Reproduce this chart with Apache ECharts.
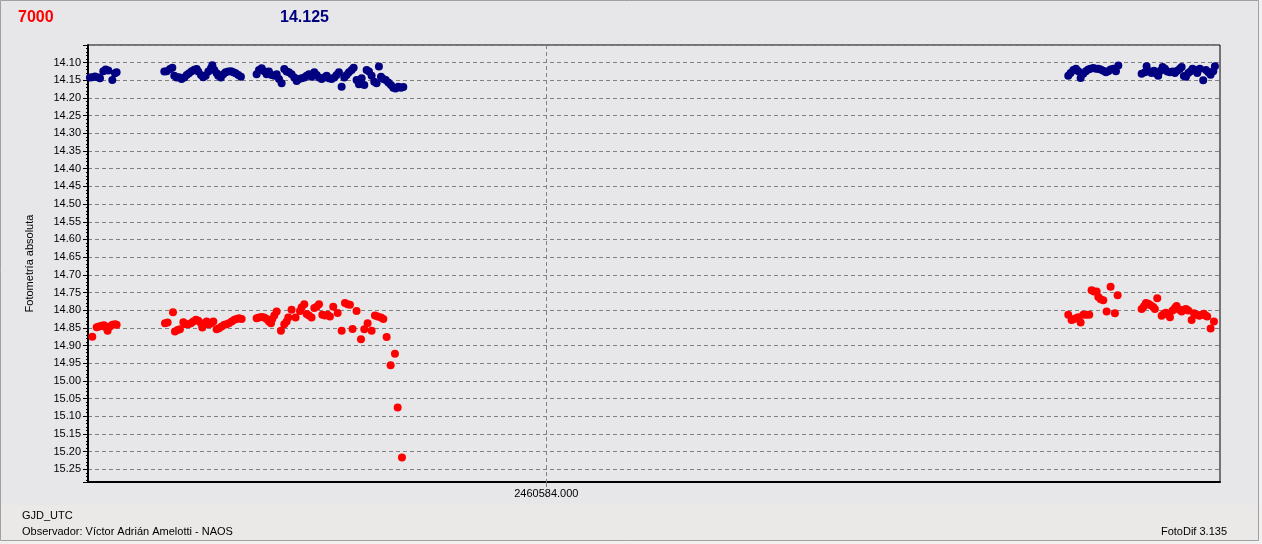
<!DOCTYPE html>
<html>
<head>
<meta charset="utf-8">
<style>
html,body{margin:0;padding:0;background:#f0f0f0;}
#chart{width:1262px;height:544px;}
</style>
<script src="https://cdn.jsdelivr.net/npm/echarts@6/dist/echarts.min.js"></script>
</head>
<body>
<div id="chart"></div>
<script>
// Julian date base; times below are JD - JD0
var JD0 = 2460583;
var xLabelValues = [2460584];
var yTickStep = 0.05;

// Comparison star (blue), night 1 and night 2
var compT1 = [0.5324,0.5348,0.5375,0.5403,0.5427,0.5461,0.5485,0.5512,0.5553,0.5580,0.5597,
  0.6086,0.6110,0.6144,0.6168,0.6188,0.6212,0.6236,0.6263,0.6291,0.6315,0.6339,0.6366,0.6393,0.6417,0.6434,0.6462,0.6485,0.6509,0.6537,0.6564,0.6578,0.6598,0.6622,0.6639,0.6666,0.6690,0.6714,0.6742,0.6769,0.6793,0.6817,0.6844,0.6871,
  0.7032,0.7056,0.7083,0.7110,0.7134,0.7158,0.7185,0.7213,0.7237,0.7261,
  0.7288,0.7315,0.7339,0.7363,0.7390,0.7418,0.7442,0.7466,0.7493,0.7520,
  0.7544,0.7568,0.7595,0.7623,0.7647,0.7671,0.7698,0.7725,0.7749,0.7773,
  0.7800,0.7828,0.7851,0.7875,0.7903,0.7930,0.7954,0.7978,0.8005,0.8026,
  0.8056,0.8080,0.8108,0.8135,0.8159,0.8183,0.8210,0.8237,0.8261,0.8285,
  0.8306,0.8330,0.8354,0.8381,0.8408,0.8432,0.8456,0.8483,0.8511,0.8535];
var compMag1 = [14.142,14.141,14.139,14.141,14.144,14.124,14.119,14.122,14.149,14.130,14.127,
  14.125,14.124,14.118,14.114,14.137,14.142,14.141,14.146,14.142,14.135,14.130,14.124,14.120,14.118,14.125,14.135,14.141,14.137,14.125,14.116,14.107,14.121,14.130,14.137,14.142,14.133,14.127,14.125,14.124,14.127,14.130,14.135,14.140,
  14.133,14.121,14.116,14.124,14.133,14.125,14.135,14.137,14.133,14.146,
  14.158,14.118,14.125,14.127,14.133,14.142,14.152,14.146,14.144,14.142,
  14.137,14.133,14.140,14.127,14.135,14.142,14.146,14.142,14.137,14.144,
  14.146,14.142,14.135,14.127,14.168,14.142,14.135,14.127,14.121,14.114,
  14.149,14.161,14.144,14.163,14.121,14.125,14.137,14.154,14.158,14.111,
  14.140,14.146,14.149,14.156,14.163,14.171,14.173,14.168,14.171,14.169];
var compT2 = [1.5348,1.5372,1.5400,1.5427,1.5451,1.5475,1.5502,1.5529,1.5553,1.5577,1.5604,1.5632,1.5656,1.5680,1.5707,1.5734,1.5758,1.5782,1.5809,1.5837,1.5861,
  1.6100,1.6134,1.6151,1.6178,1.6202,1.6226,1.6253,1.6270,1.6294,1.6315,1.6339,1.6363,1.6390,1.6417,1.6441,1.6465,1.6492,1.6510,1.6533,1.6554,1.6578,1.6602,1.6622,1.6646,1.6670,1.6697,1.6731,1.6759,1.6783,1.6807,1.6834,1.6851];
var compMag2 = [14.137,14.129,14.121,14.117,14.124,14.143,14.131,14.124,14.119,14.117,14.115,14.117,14.117,14.119,14.123,14.127,14.124,14.119,14.117,14.124,14.108,
  14.131,14.127,14.110,14.125,14.129,14.123,14.131,14.137,14.123,14.112,14.117,14.125,14.127,14.125,14.129,14.123,14.117,14.112,14.138,14.140,14.129,14.124,14.117,14.121,14.129,14.117,14.150,14.121,14.127,14.134,14.124,14.110];

// Target (red), night 1 and night 2
var targT1 = [0.5348,0.5393,0.5416,0.5444,0.5468,0.5485,0.5505,0.5529,0.5553,0.5580,0.5597,
  0.6093,0.6120,0.6175,0.6195,0.6222,0.6246,0.6281,0.6304,0.6332,0.6359,0.6383,0.6410,0.6434,0.6462,0.6475,0.6496,0.6520,0.6544,0.6564,0.6588,0.6622,0.6646,0.6673,0.6701,0.6725,0.6748,0.6776,0.6803,0.6827,0.6851,0.6878,
  0.7032,0.7056,0.7083,0.7110,0.7134,0.7158,0.7179,0.7192,0.7213,0.7237,
  0.7281,0.7315,0.7339,0.7356,0.7390,0.7431,0.7476,0.7493,0.7520,0.7544,
  0.7568,0.7595,0.7623,0.7647,0.7671,0.7705,0.7732,0.7759,0.7783,0.7817,
  0.7862,0.7903,0.7937,0.7964,0.7988,0.8015,0.8056,0.8101,0.8135,0.8169,
  0.8210,0.8244,0.8272,0.8306,0.8330,0.8364,0.8405,0.8449,0.8477,0.8521];
var targMag1 = [14.875,14.848,14.846,14.844,14.843,14.848,14.858,14.846,14.841,14.840,14.841,
  14.837,14.835,14.806,14.860,14.856,14.854,14.834,14.840,14.840,14.837,14.832,14.827,14.830,14.837,14.849,14.841,14.832,14.840,14.837,14.832,14.854,14.851,14.846,14.841,14.840,14.837,14.832,14.827,14.825,14.823,14.825,
  14.823,14.821,14.819,14.821,14.825,14.832,14.837,14.825,14.815,14.804,
  14.858,14.840,14.832,14.821,14.799,14.821,14.802,14.792,14.783,14.811,
  14.815,14.821,14.794,14.790,14.783,14.813,14.815,14.813,14.818,14.790,
  14.808,14.858,14.780,14.783,14.785,14.853,14.802,14.882,14.854,14.837,
  14.858,14.815,14.818,14.821,14.825,14.876,14.956,14.923,15.075,15.217];
var targT2 = [1.5348,1.5382,1.5400,1.5427,1.5451,1.5475,1.5502,1.5536,1.5563,1.5587,1.5611,1.5639,1.5656,1.5680,1.5707,1.5741,1.5782,1.5826,1.5854,
  1.6100,1.6124,1.6144,1.6168,1.6192,1.6219,1.6236,1.6260,1.6305,1.6328,1.6349,1.6373,1.6390,1.6417,1.6441,1.6458,1.6486,1.6510,1.6533,1.6554,1.6578,1.6612,1.6636,1.6663,1.6691,1.6714,1.6738,1.6759,1.6772,1.6807,1.6841];
var targMag2 = [14.813,14.828,14.826,14.823,14.820,14.835,14.813,14.813,14.813,14.744,14.747,14.747,14.763,14.769,14.772,14.804,14.734,14.809,14.758,
  14.797,14.789,14.780,14.782,14.786,14.791,14.797,14.766,14.816,14.810,14.807,14.813,14.820,14.801,14.794,14.788,14.799,14.804,14.799,14.797,14.801,14.828,14.809,14.813,14.816,14.813,14.810,14.816,14.818,14.852,14.832];

var xMin = JD0 + 0.5304, xMax = JD0 + 1.6903;
var yMin = 14.05, yMax = 15.286;

function zip(ts, ms) {
  var out = [];
  for (var i = 0; i < Math.min(ts.length, ms.length); i++) out.push([JD0 + ts[i], ms[i]]);
  return out;
}
var compData = zip(compT1, compMag1).concat(zip(compT2, compMag2));
var targData = zip(targT1, targMag1).concat(zip(targT2, targMag2));

var FONT = '"Liberation Sans", Arial, sans-serif';
var chart = echarts.init(document.getElementById('chart'), null, {renderer: 'canvas'});
chart.setOption({
  animation: false,
  backgroundColor: '#f0f0f0',
  graphic: [
    {type: 'rect', z: -100, silent: true, shape: {x: 0.5, y: 0.5, width: 1258, height: 540},
      style: {fill: '#e7e7ea', stroke: '#a0a0a0', lineWidth: 1}},
    {type: 'rect', z: -99, silent: true, shape: {x: 1, y: 505, width: 1257, height: 35},
      style: {fill: '#eae9e7'}},
    {type: 'text', silent: true, style: {text: '7000', x: 18, y: 18, fill: '#ff0000', font: 'bold 16px ' + FONT, textVerticalAlign: 'middle', verticalAlign: 'middle'}},
    {type: 'text', silent: true, style: {text: '14.125', x: 280, y: 18, fill: '#000080', font: 'bold 16px ' + FONT, textVerticalAlign: 'middle', verticalAlign: 'middle'}},
    {type: 'text', silent: true, style: {text: 'GJD_UTC', x: 22, y: 516, fill: '#000', font: '11px ' + FONT, textVerticalAlign: 'middle', verticalAlign: 'middle'}},
    {type: 'text', silent: true, style: {text: 'Observador: Víctor Adrián Amelotti - NAOS', x: 22, y: 532, fill: '#000', font: '11px ' + FONT, textVerticalAlign: 'middle', verticalAlign: 'middle'}},
    {type: 'text', silent: true, style: {text: 'FotoDif 3.135', x: 1227, y: 532, fill: '#000', font: '11px ' + FONT, textAlign: 'right', align: 'right', textVerticalAlign: 'middle', verticalAlign: 'middle'}}
  ],
  grid: {
    left: 88, right: 42, top: 45, bottom: 62,
    show: true, borderColor: '#000', borderWidth: 1, backgroundColor: 'transparent',
    containLabel: false
  },
  xAxis: {
    type: 'value', min: xMin, max: xMax,
    axisLine: {show: true, onZero: false, lineStyle: {color: '#000', width: 2}},
    axisTick: {show: true, customValues: xLabelValues, length: 5, lineStyle: {color: '#808080'}},
    axisLabel: {show: true, customValues: xLabelValues, margin: 6, color: '#000', fontSize: 11, fontFamily: FONT,
      formatter: function (v) { return v.toFixed(3); }},
    splitLine: {show: false}
  },
  yAxis: {
    type: 'value', inverse: true, min: yMin, max: yMax, interval: yTickStep,
    name: 'Fotometría absoluta', nameLocation: 'middle', nameGap: 53, nameRotate: 90,
    nameTextStyle: {color: '#000', fontSize: 11, fontFamily: FONT},
    axisLine: {show: true, onZero: false, lineStyle: {color: '#000', width: 2}},
    axisTick: {show: true, length: 5, lineStyle: {color: '#000'}},
    minorTick: {show: true, splitNumber: 5, length: 2, lineStyle: {color: '#000'}},
    axisLabel: {show: true, margin: 7, color: '#000', fontSize: 11, fontFamily: FONT,
      showMinLabel: false, showMaxLabel: false,
      formatter: function (v) { return v.toFixed(2); }},
    splitLine: {show: true, lineStyle: {color: '#808080', type: [4, 3], width: 1}}
  },
  series: [
    {type: 'scatter', name: '14.125', data: compData, symbol: 'circle', symbolSize: 8,
      itemStyle: {color: '#000080', opacity: 1},
      markLine: {silent: true, symbol: ['none', 'none'], animation: false,
        label: {show: false},
        lineStyle: {color: '#808080', type: [4, 3], width: 1},
        data: [{xAxis: xLabelValues[0]}]}},
    {type: 'scatter', name: '7000', data: targData, symbol: 'circle', symbolSize: 8,
      itemStyle: {color: '#ff0000', opacity: 1}}
  ]
});
</script>
</body>
</html>
